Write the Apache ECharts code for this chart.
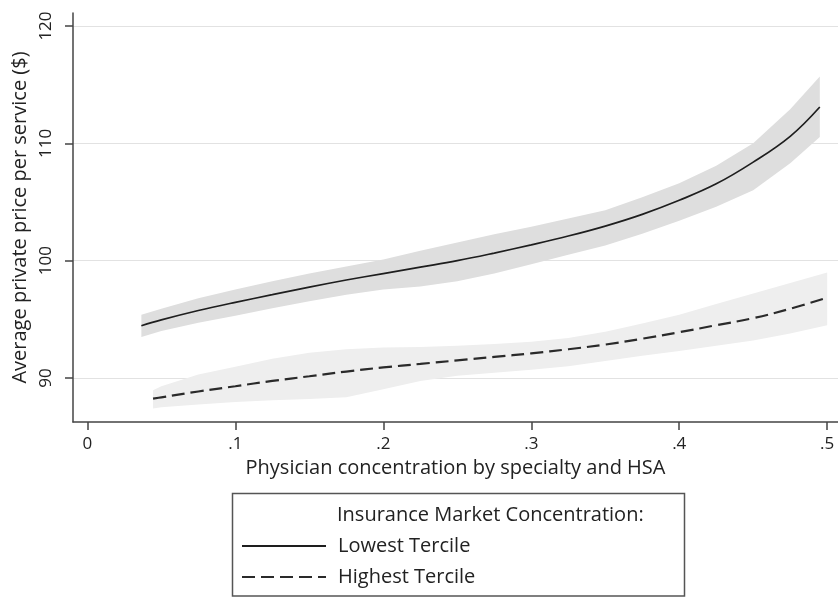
<!DOCTYPE html>
<html>
<head>
<meta charset="utf-8">
<script src="https://cdn.jsdelivr.net/npm/echarts@6/dist/echarts.min.js"></script>
<style>html,body{margin:0;padding:0;background:#fff;}#c{width:838px;height:597px;}</style>
</head>
<body>
<div id="c"></div>
<script>
// ---- data ----
const xTicks = [0, 0.1, 0.2, 0.3, 0.4, 0.5];
const yTicks = [90, 100, 110, 120];

const lowestX     = [0.0365, 0.05, 0.075, 0.1, 0.125, 0.15, 0.175, 0.2, 0.225, 0.25, 0.275, 0.3, 0.325, 0.35, 0.375, 0.4, 0.425, 0.45, 0.475, 0.495];
const lowestMid   = [94.45, 94.95, 95.75, 96.45, 97.1, 97.75, 98.35, 98.9, 99.45, 100.0, 100.65, 101.35, 102.1, 102.95, 103.95, 105.15, 106.55, 108.4, 110.6, 113.1];
const lowestUpper = [95.4, 95.9, 96.8, 97.55, 98.25, 98.9, 99.5, 100.1, 100.85, 101.55, 102.25, 102.9, 103.6, 104.3, 105.4, 106.6, 108.1, 110.0, 112.9, 115.7];
const lowestLower = [93.5, 94.0, 94.7, 95.3, 95.95, 96.55, 97.1, 97.55, 97.8, 98.25, 98.9, 99.7, 100.5, 101.3, 102.3, 103.4, 104.6, 106.0, 108.3, 110.55];

const highestX     = [0.0444, 0.05, 0.075, 0.1, 0.125, 0.15, 0.175, 0.2, 0.225, 0.25, 0.275, 0.3, 0.325, 0.35, 0.375, 0.4, 0.425, 0.45, 0.475, 0.5];
const highestMid   = [88.24, 88.35, 88.85, 89.3, 89.75, 90.15, 90.55, 90.9, 91.2, 91.5, 91.8, 92.1, 92.45, 92.85, 93.35, 93.9, 94.5, 95.1, 95.9, 96.85];
const highestUpper = [88.95, 89.3, 90.3, 90.95, 91.65, 92.15, 92.45, 92.6, 92.65, 92.75, 92.9, 93.1, 93.4, 93.95, 94.65, 95.4, 96.3, 97.2, 98.1, 99.0];
const highestLower = [87.4, 87.5, 87.75, 87.95, 88.1, 88.2, 88.35, 89.05, 89.75, 90.2, 90.45, 90.7, 91.0, 91.45, 91.9, 92.3, 92.75, 93.2, 93.8, 94.5];

const seriesNames = ['Lowest Tercile', 'Highest Tercile'];
const legendTitle = 'Insurance Market Concentration:';
const xTitle = 'Physician concentration by specialty and HSA';
const yTitle = 'Average private price per service ($)';

// ---- helpers ----
const pairs = (xs, ys) => xs.map((x, i) => [x, ys[i]]);
const FONT = 'Open Sans';
const TXT = '#222';

function bandSeries(xs, up, lo, color) {
  return {
    type: 'custom', silent: true, z: 1, clip: true,
    data: [[xs[0], lo[0]]],
    renderItem: function (params, api) {
      const top = xs.map((x, i) => api.coord([x, up[i]]));
      const bot = xs.map((x, i) => api.coord([x, lo[i]])).reverse();
      return {
        type: 'polygon',
        shape: { points: top.concat(bot) },
        style: { fill: color, stroke: null }
      };
    }
  };
}

const chart = echarts.init(document.getElementById('c'), null, { renderer: 'canvas' });

const gridSeries = {
  type: 'line', data: [], silent: true, z: 0,
  markLine: {
    silent: true, symbol: ['none', 'none'], label: { show: false }, z: 0,
    lineStyle: { color: '#e2e2e2', type: 'solid', width: 1.2 },
    emphasis: { disabled: true },
    data: yTicks.map(v => ({ yAxis: v }))
  }
};

chart.setOption({
  animation: false,
  backgroundColor: '#fff',
  textStyle: { fontFamily: FONT },
  grid: { left: 73, right: 0, top: 13, bottom: 175, containLabel: false },
  xAxis: {
    type: 'value', min: -0.0097, max: 0.5073,
    name: xTitle, nameLocation: 'middle', nameGap: 34,
    nameTextStyle: { fontFamily: FONT, fontSize: 20, color: TXT },
    axisLine: { show: true, onZero: false, lineStyle: { color: '#444', width: 1.5 } },
    axisTick: { show: true, length: 8, customValues: xTicks, lineStyle: { color: '#444', width: 1.5 } },
    axisLabel: {
      customValues: xTicks, margin: 14, fontFamily: FONT, fontSize: 17, color: TXT,
      formatter: v => (v === 0 ? '0' : String(+v.toFixed(2)).replace(/^0\./, '.'))
    },
    splitLine: { show: false }
  },
  yAxis: {
    type: 'value', min: 86.25, max: 121.11,
    name: yTitle, nameLocation: 'middle', nameGap: 34, nameRotate: 90,
    nameTextStyle: { fontFamily: FONT, fontSize: 20, color: TXT },
    axisLine: { show: true, onZero: false, lineStyle: { color: '#444', width: 1.5 } },
    axisTick: { show: true, length: 8, customValues: yTicks, lineStyle: { color: '#444', width: 1.5 } },
    axisLabel: { customValues: yTicks, rotate: 90, margin: 18, fontFamily: FONT, fontSize: 17, color: TXT },
    splitLine: { show: false }
  },
  legend: {
    data: seriesNames,
    orient: 'vertical',
    left: 241, top: 536,
    padding: 0,
    itemWidth: 84, itemHeight: 14, itemGap: 11,
    itemStyle: { opacity: 0, borderWidth: 0 },
    textStyle: { fontFamily: FONT, fontSize: 20, color: TXT, padding: [0, 0, 0, 7] },
    selectedMode: false
  },
  graphic: [
    {
      type: 'rect', silent: true,
      shape: { x: 232.5, y: 493.5, width: 452, height: 102.5 },
      style: { fill: 'none', stroke: '#555', lineWidth: 1.5 }
    },
    {
      type: 'text', silent: true, left: 337, top: 505,
      style: { text: legendTitle, fontFamily: FONT, fontSize: 20, fill: TXT }
    }
  ],
  series: [
    gridSeries,
    bandSeries(lowestX, lowestUpper, lowestLower, '#dedede'),
    bandSeries(highestX, highestUpper, highestLower, '#eeeeee'),
    {
      name: seriesNames[0], type: 'line', data: pairs(lowestX, lowestMid), smooth: 0.4,
      symbol: 'none', z: 3,
      lineStyle: { color: '#1e1e1e', width: 1.7, type: 'solid' },
      itemStyle: { color: '#1e1e1e' }
    },
    {
      name: seriesNames[1], type: 'line', data: pairs(highestX, highestMid), smooth: 0.4,
      symbol: 'none', z: 3,
      lineStyle: { color: '#2a2a2a', width: 2.2, type: [13, 6] },
      itemStyle: { color: '#2a2a2a' }
    }
  ]
});
</script>
</body>
</html>
